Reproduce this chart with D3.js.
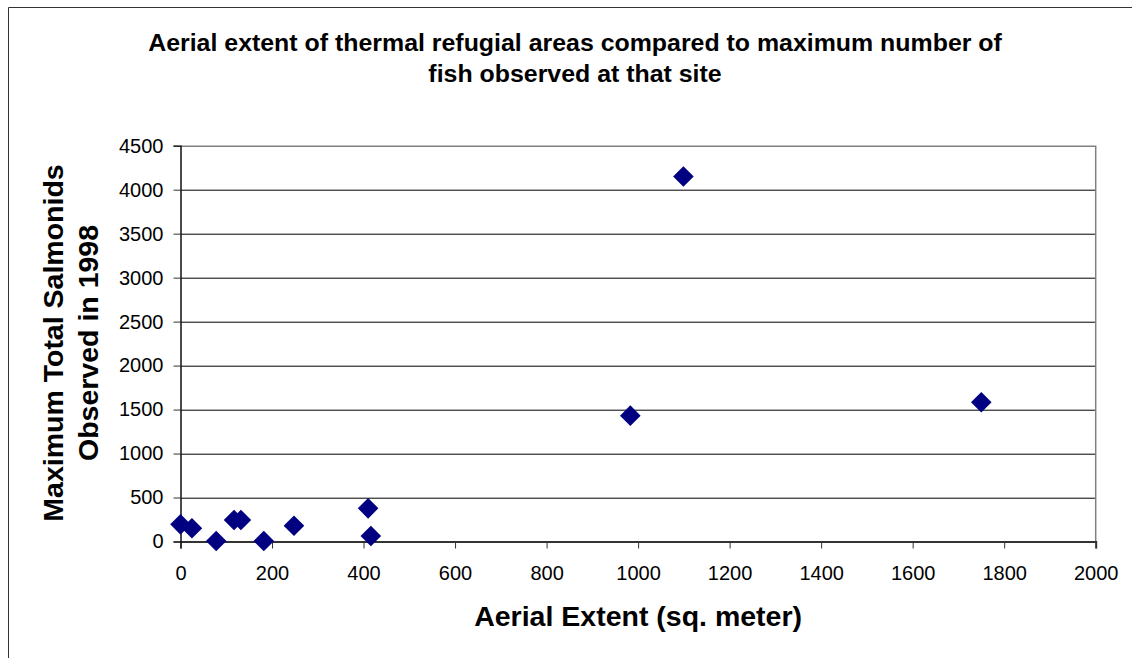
<!DOCTYPE html>
<html>
<head>
<meta charset="utf-8">
<script src="https://cdn.jsdelivr.net/npm/d3@7"></script>
<style>
  body { margin: 0; background: #fff; }
  text { font-family: "Liberation Sans", Arial, sans-serif; fill: #000; }
</style>
</head>
<body>
<script>
// data
var areaValues = [0, 25, 78, 117, 132, 182, 248, 410, 416, 983, 1099, 1750];
var fishValues = [195, 150, 5, 244, 244, 5, 180, 377, 62, 1431, 4150, 1584];
var xTicks = [0, 200, 400, 600, 800, 1000, 1200, 1400, 1600, 1800, 2000];
var yTicks = [0, 500, 1000, 1500, 2000, 2500, 3000, 3500, 4000, 4500];
var titleLines = ["Aerial extent of thermal refugial areas compared to maximum number of",
                  "fish observed at that site"];
var yTitleLines = ["Maximum Total Salmonids", "Observed in 1998"];
var xTitle = "Aerial Extent (sq. meter)";

var W = 1132, H = 658;
var margin = {top: 145.7, right: 36.3, bottom: 116.5, left: 180.5},
    width = W - margin.left - margin.right,
    height = H - margin.top - margin.bottom;

var svg = d3.select("body").append("svg")
    .attr("width", W)
    .attr("height", H);

// outer chart border (runs off the right and bottom)
svg.append("path")
    .attr("d", "M8.5," + (H + 2) + "V7.5H" + (W + 2))
    .attr("fill", "none")
    .attr("stroke", "#333")
    .attr("stroke-width", 1);

var x = d3.scaleLinear().domain([0, 2000]).range([0, width]);
var y = d3.scaleLinear().domain([0, 4500]).range([height, 0]);

var g = svg.append("g")
    .attr("transform", "translate(" + margin.left + "," + margin.top + ")");

// gridlines
g.append("g")
    .selectAll("line")
    .data(yTicks.filter(function(d) { return d > 0 && d < 4500; }))
    .enter().append("line")
    .attr("x1", 0).attr("x2", width)
    .attr("y1", function(d) { return Math.round(y(d)) + 0.5; })
    .attr("y2", function(d) { return Math.round(y(d)) + 0.5; })
    .attr("stroke", "#000")
    .attr("stroke-width", 1);

// plot area border top and right
g.append("path")
    .attr("d", "M0,0.5H" + width + "V" + height)
    .attr("fill", "none")
    .attr("stroke", "#808080")
    .attr("stroke-width", 1.5);

// x axis
var xAxis = d3.axisBottom(x)
    .tickValues(xTicks)
    .tickFormat(d3.format("d"))
    .tickSize(7)
    .tickPadding(17);
var gx = g.append("g")
    .attr("transform", "translate(0," + height + ")")
    .call(xAxis);
gx.select(".domain").attr("stroke", "#333").attr("stroke-width", 2);
gx.selectAll(".tick line").attr("stroke", "#333").attr("stroke-width", 1);
gx.selectAll(".tick text")
    .style("font-size", "20px")
    .style("font-family", "'Liberation Sans', Arial, sans-serif")
    .attr("fill", "#000");

// y axis
var yAxis = d3.axisLeft(y)
    .tickValues(yTicks)
    .tickFormat(d3.format("d"))
    .tickSize(7)
    .tickPadding(10);
var gy = g.append("g").call(yAxis);
gy.select(".domain").attr("stroke", "#111").attr("stroke-width", 1.5);
gy.selectAll(".tick line").attr("stroke", "#333").attr("stroke-width", 1);
gy.selectAll(".tick text")
    .style("font-size", "20px")
    .style("font-family", "'Liberation Sans', Arial, sans-serif")
    .attr("fill", "#000");

// diamond markers
var diamond = d3.symbol().type(d3.symbolDiamond2).size(270);
g.append("g")
    .selectAll("path")
    .data(areaValues.map(function(a, i) { return {a: a, f: fishValues[i]}; }))
    .enter().append("path")
    .attr("d", diamond)
    .attr("transform", function(d) { return "translate(" + x(d.a) + "," + y(d.f) + ")"; })
    .attr("fill", "#000080");

// title (slightly widened like the original)
svg.append("g")
    .attr("transform", "translate(575,0) scale(1.06,1)")
    .selectAll("text")
    .data(titleLines)
    .enter().append("text")
    .attr("x", 0)
    .attr("y", function(d, i) { return 51 + i * 31; })
    .attr("text-anchor", "middle")
    .style("font-size", "23.5px")
    .style("font-weight", "bold")
    .text(function(d) { return d; });

// x title
svg.append("text")
    .attr("x", margin.left + width / 2)
    .attr("y", 626)
    .attr("text-anchor", "middle")
    .style("font-size", "28.5px")
    .style("font-weight", "bold")
    .text(xTitle);

// y title
svg.append("g")
    .attr("transform", "translate(0,343) rotate(-90)")
    .selectAll("text")
    .data(yTitleLines)
    .enter().append("text")
    .attr("x", 0)
    .attr("y", function(d, i) { return 63 + i * 35; })
    .attr("text-anchor", "middle")
    .style("font-size", "28.5px")
    .style("font-weight", "bold")
    .text(function(d) { return d; });
</script>
</body>
</html>
